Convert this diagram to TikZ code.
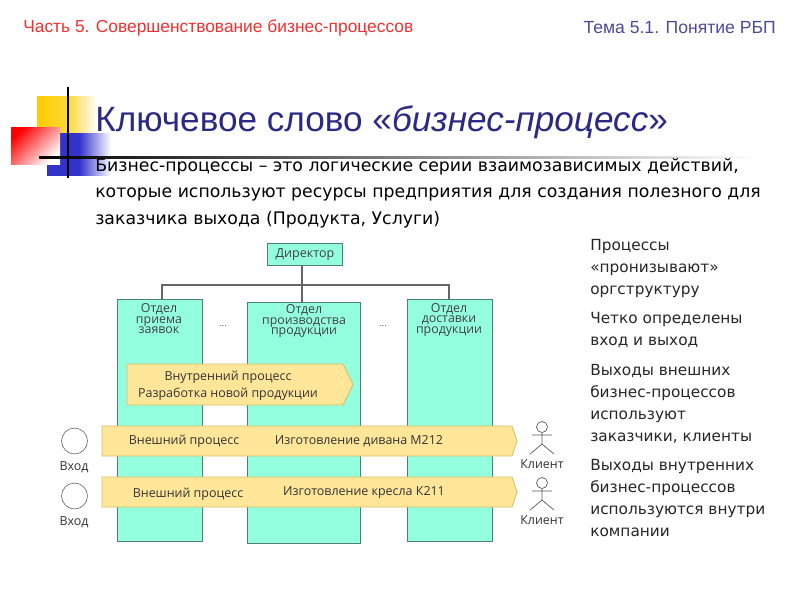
\documentclass[tikz,border=0pt]{standalone}
\usepackage{xcolor}
\usepackage{fontspec}
\setmainfont{Liberation Sans}
\newfontfamily\bodyfont{DejaVu Sans}
\newfontfamily\schemefont{Open Sans}
\lineskiplimit=-20pt
\definecolor{deptfill}{HTML}{93FFDF}
\definecolor{deptline}{HTML}{4F7F72}
\definecolor{procfill}{HTML}{FFE699}
\definecolor{procline}{HTML}{D8BE6A}
\definecolor{titleblue}{HTML}{2A2A85}
\definecolor{headred}{HTML}{F03030}
\definecolor{headblue}{HTML}{4A4A9A}
\definecolor{logoyellow}{HTML}{FFCC00}
\definecolor{logored}{HTML}{FF0000}
\definecolor{logoblue}{HTML}{3333CC}
\tikzset{
  dept/.style={draw=deptline,fill=deptfill,line width=0.7pt},
  depttext/.style={font=\schemefont\fontsize{8.8pt}{7.4pt}\selectfont,align=center,text=black!75,anchor=north,inner sep=0pt},
  proc/.style={draw=procline,fill=procfill,line width=0.6pt},
  proctext/.style={font=\schemefont\fontsize{8.85pt}{10pt}\selectfont,text=black!80},
  orgline/.style={draw=black!60,line width=1pt},
  actor/.style={draw=black!65,line width=0.5pt},
  sidetext/.style={font=\bodyfont\fontsize{10.9pt}{15.6pt}\selectfont,align=left,anchor=north west,text=black!85,inner sep=0pt},
}
\begin{document}
\begin{tikzpicture}
    [x=0.025cm,y=-0.025cm]
    \useasboundingbox (0,0) rectangle (800,600);
    %logo
    \shade[left color=logoyellow,right color=white,middle color=logoyellow!80] (37,96) rectangle (97,152);
    \shade[left color=logoblue,right color=white,middle color=logoblue] (47,133) rectangle (111,175);
    \shade[left color=white,right color=logored,bottom color=white,top color=logored,shading angle=45] (11,127) rectangle (60,164);
    \draw[line width=1.5pt] (68,87)--(68,178);
    \shade[left color=black,right color=white] (39,156) rectangle (757,158);
    %header
    \node[anchor=west,inner sep=0pt,text=headred,font=\fontsize{12.35pt}{14pt}\selectfont] (part) at (23,28) {Часть 5. Совершенствование бизнес-процессов};
    \node[anchor=east,inner sep=0pt,text=headblue,font=\fontsize{12.5pt}{14pt}\selectfont] (topic) at (776,28) {Тема 5.1. Понятие РБП};
    %title
    \node[anchor=west,inner sep=0pt,text=titleblue,font=\fontsize{25pt}{29pt}\selectfont] (title) at (95,122) {Ключевое слово «\textit{бизнес-процесс}»};
    \node[anchor=north west,inner sep=0pt,font=\bodyfont\fontsize{12.3pt}{18.8pt}\selectfont,align=left] (intro) at (95,158) {Бизнес-процессы – это логические серии взаимозависимых действий,\\которые используют ресурсы предприятия для создания полезного для\\заказчика выхода (Продукта, Услуги)};
    %departments
    \node[dept,inner sep=0pt,minimum width=76*0.71pt,minimum height=23*0.71pt,font=\schemefont\fontsize{8.9pt}{10pt}\selectfont,text=black!75] (director) at (305,254.5) {\raisebox{-1pt}{Директор}};
    \path[dept] (117,299) rectangle (202,541);
    \path[dept] (247,302) rectangle (360,543);
    \path[dept] (407,299) rectangle (492,541);
    \coordinate (dept1) at (162,299);
    \coordinate (dept2) at (302,302);
    \coordinate (dept3) at (449,299);
    \coordinate (bus) at (302,285);
    \draw[orgline] (director.south -| dept2)--(dept2);
    \draw[orgline] (dept1) |- (bus) -| (dept3);
    \node[depttext] (dept1text) at (159,303.5) {Отдел\\приема\\заявок};
    \node[depttext] (dept2text) at (304,304.5) {Отдел\\производства\\продукции};
    \node[depttext] (dept3text) at (449,303) {Отдел\\доставки\\продукции};
    \node[text=black!60,font=\schemefont\fontsize{7pt}{8pt}\selectfont] (dots1) at (223,326) {...};
    \node[text=black!60,font=\schemefont\fontsize{7pt}{8pt}\selectfont] (dots2) at (383,326) {...};
    %processes
    \draw[proc] (127,364)--(343,364)--(353,384.5)--(343,405)--(127,405)--cycle;
    \draw[proc] (102,426)--(512,426)--(517,441)--(512,456)--(102,456)--cycle;
    \draw[proc] (102,477)--(512,477)--(517,492)--(512,507)--(102,507)--cycle;
    \node[proctext] (inner1) at (228,377) {Внутренний процесс};
    \node[proctext] (inner2) at (228,394) {Разработка новой продукции};
    \node[proctext] (outer1) at (184,441) {Внешний процесс};
    \node[proctext] (make1) at (359,441) {Изготовление дивана М212};
    \node[proctext] (outer2) at (188,494) {Внешний процесс};
    \node[proctext] (make2) at (364,492) {Изготовление кресла К211};
    %inputs
    \node[draw=black!65,circle,minimum size=26*0.71pt,inner sep=0pt] (in1) at (74.5,441) {};
    \node[draw=black!65,circle,minimum size=26*0.71pt,inner sep=0pt] (in2) at (74.5,496) {};
    \node[proctext] (in1text) at (74,467) {Вход};
    \node[proctext] (in2text) at (74,522) {Вход};
    %clients
    \draw[actor] (542,427) circle (5.5);
    \draw[actor] (542,432.5)--(542,444) (532,435)--(552,435) (530,454)--(542,444)--(554,454);
    \draw[actor] (542,483) circle (5.5);
    \draw[actor] (542,488.5)--(542,500) (532,491)--(552,491) (530,510)--(542,500)--(554,510);
    \node[proctext] (client1) at (542,464) {Клиент};
    \node[proctext] (client2) at (542,520) {Клиент};
    %side text
    \node[sidetext] (side1) at (590,239) {Процессы\\«пронизывают»\\оргструктуру};
    \node[sidetext] (side2) at (590,312) {Четко определены\\вход и выход};
    \node[sidetext] (side3) at (590,364) {Выходы внешних\\бизнес-процессов\\используют\\заказчики, клиенты};
    \node[sidetext] (side4) at (590,459) {Выходы внутренних\\бизнес-процессов\\используются внутри\\компании};
\end{tikzpicture}
\end{document}
